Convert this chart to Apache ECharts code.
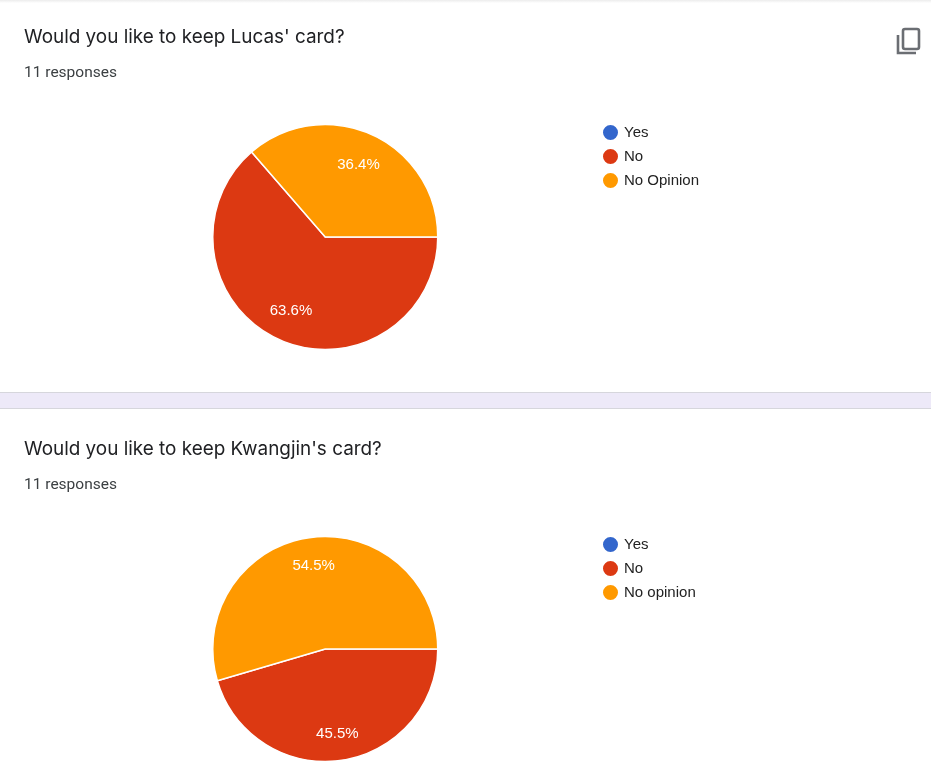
<!DOCTYPE html>
<html><head><meta charset="utf-8">
<style>html,body{margin:0;padding:0;background:#fff}#c{width:931px;height:765px}</style>
<script src="https://cdn.jsdelivr.net/npm/echarts@6/dist/echarts.min.js"></script>
</head><body><div id="c"></div>
<script>
const titles = ["Would you like to keep Lucas' card?", "Would you like to keep Kwangjin's card?"];
const responses = "11 responses";
const categoriesA = ["Yes", "No", "No Opinion"];
const categoriesB = ["Yes", "No", "No opinion"];
const valuesA = [0, 7, 4];
const valuesB = [0, 5, 6];
const colors = ["#3366cc", "#dc3912", "#ff9900"];

const base = (names, vals, cy) => ({
  type: 'pie', silent: true, animation: false, center: [325.25, cy], radius: [0, 112.5],
  startAngle: 0, clockwise: true, label: { show: false }, labelLine: { show: false },
  data: names.map((n, i) => ({ name: n, value: vals[i], itemStyle: { color: colors[i] } })),
  itemStyle: { borderColor: '#fff', borderWidth: 1.5 }
});
const labels = (names, vals, cy, nudges) => ({
  type: 'pie', silent: true, animation: false, center: [325.5, cy], radius: [48, 112],
  startAngle: 0, clockwise: true, labelLine: { show: false },
  data: names.map((n, i) => ({ name: n, value: vals[i], label: { show: vals[i] > 0 }, itemStyle: { color: 'rgba(0,0,0,0)' } })),
  itemStyle: { borderWidth: 0 },
  labelLayout: p => ({ dx: nudges[p.dataIndex][0], dy: nudges[p.dataIndex][1] }),
  label: { position: 'inside', color: '#fff', fontSize: 15, fontFamily: 'Liberation Sans', formatter: p => p.percent.toFixed(1) + '%' }
});
const legend = (names, top) => ({
  type: 'plain', orient: 'vertical', left: 601, top, data: names, icon: 'circle', selectedMode: false,
  itemWidth: 17, itemHeight: 17, itemGap: 5, padding: 0,
  textStyle: { color: '#222222', fontSize: 15, fontFamily: 'Liberation Sans' }
});
const titleItem = (text, top) => ({ text, left: 24, top, padding: 0,
  textStyle: { color: '#202124', fontSize: 18.9, fontWeight: 400, fontFamily: 'Inter' } });
const subItem = (top) => ({ text: responses, left: 24, top, padding: 0,
  textStyle: { color: '#3c4043', fontSize: 15.5, fontWeight: 400, fontFamily: 'Roboto' } });

const chart = echarts.init(document.getElementById('c'), null, { renderer: 'canvas' });
chart.setOption({
  backgroundColor: '#fff',
  animation: false,
  title: [titleItem(titles[0], 28), subItem(65), titleItem(titles[1], 440), subItem(477)],
  legend: [legend(categoriesA, 123), legend(categoriesB, 535)],
  series: [base(categoriesA, valuesA, 237), labels(categoriesA, valuesA, 237, [[0, 0], [0, -2], [-1.5, 3.5]]),
           base(categoriesB, valuesB, 649), labels(categoriesB, valuesB, 649, [[0, 0], [0, 3], [0, -1]])],
  graphic: [
    { type: 'rect', z: -1, shape: { x: 0, y: 0, width: 931, height: 3 },
      style: { fill: new echarts.graphic.LinearGradient(0, 0, 0, 1, [{ offset: 0, color: '#ececec' }, { offset: 1, color: '#ffffff' }]) } },
    { type: 'rect', z: -1, shape: { x: 0, y: 392, width: 931, height: 17 }, style: { fill: '#d6d6dc' } },
    { type: 'rect', z: -1, shape: { x: 0, y: 393, width: 931, height: 15 }, style: { fill: '#ede9f8' } },
    { type: 'rect', shape: { x: 903, y: 29, width: 16, height: 20, r: 2 }, style: { fill: 'none', stroke: '#6b6e73', lineWidth: 2.6 } },
    { type: 'polyline', shape: { points: [[898, 35], [898, 53], [916, 53]] }, style: { fill: 'none', stroke: '#6b6e73', lineWidth: 2.6 } }
  ]
});
</script></body></html>
